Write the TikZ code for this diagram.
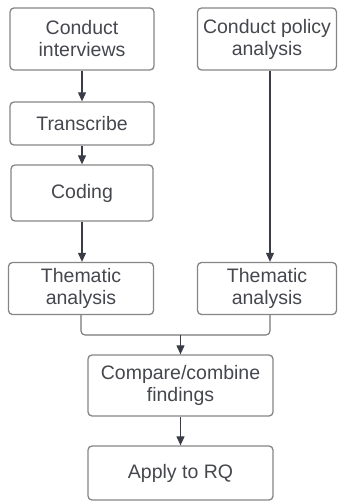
\documentclass[tikz,border=0pt]{standalone}
\usepackage{fontspec}
\setmainfont{Liberation Sans}
\usetikzlibrary{arrows.meta}
\definecolor{boxline}{HTML}{858585}
\definecolor{txt}{HTML}{45474D}
\definecolor{arr}{HTML}{3A3D45}
\tikzset{
  stepbox/.style={draw=boxline, line width=1.3pt, rounded corners=4pt, text=txt,
    font=\fontsize{19.5}{22}\selectfont, align=center, inner sep=0pt},
  conn/.style={draw=arr, line width=1.1pt, -{Triangle[length=9pt,width=8pt]}},
  plain/.style={draw=boxline!80!arr, line width=1.1pt, rounded corners=4pt}
}
\begin{document}
\begin{tikzpicture}[x=1pt,y=-1pt]
\useasboundingbox (0,0) rectangle (338,502);
\node[stepbox, minimum width=144pt, minimum height=62pt] (ci) at (82,39) {Conduct\\interviews};
\node[stepbox, minimum width=139pt, minimum height=62pt] (cp) at (267,39) {Conduct policy\\analysis};
\node[stepbox, minimum width=144pt, minimum height=43pt] (tr) at (82,123.5) {Transcribe};
\node[stepbox, minimum width=142pt, minimum height=56pt] (co) at (82,193) {Coding};
\node[stepbox, minimum width=145pt, minimum height=52pt] (tl) at (81,288.5) {Thematic\\analysis};
\node[stepbox, minimum width=139pt, minimum height=52pt] (trt) at (267,288.5) {Thematic\\analysis};
\node[stepbox, minimum width=185pt, minimum height=61pt] (cf) at (180.5,385.5) {Compare/combine\\findings};
\node[stepbox, minimum width=185pt, minimum height=54pt] (ap) at (180.5,473) {Apply to RQ};
\coordinate (jn) at (180.5,335);
\draw[conn] (ci.south) -- (tr.north);
\draw[conn] (tr.south) -- (co.north);
\draw[conn] (co.south) -- (co.south |- tl.north);
\draw[conn] (cp.south -| 270,0) -- (trt.north -| 270,0);
\draw[plain] (tl.south) |- (jn) -| (trt.south -| 270,0);
\draw[conn] (jn) -- (cf.north);
\draw[conn] (cf.south) -- (ap.north);
\end{tikzpicture}
\end{document}
